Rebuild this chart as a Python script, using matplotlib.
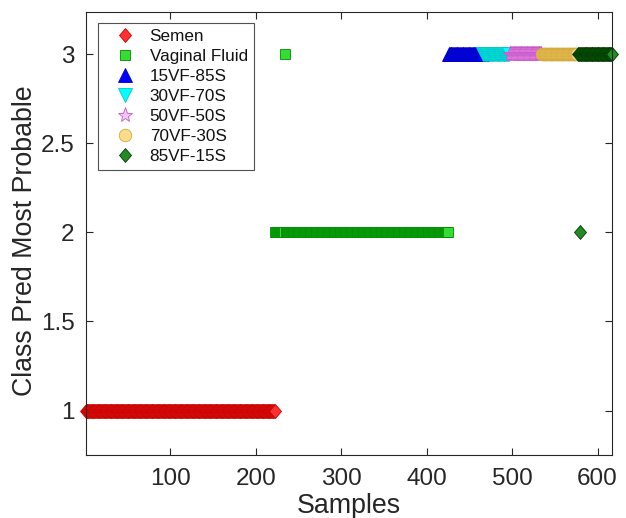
import matplotlib
matplotlib.use('Agg')
import matplotlib.pyplot as plt
from matplotlib.path import Path
import numpy as np

plt.rcParams['font.family'] = ['Liberation Sans', 'DejaVu Sans']

# ---- data ----
group_names = ['Semen', 'Vaginal Fluid', '15VF-85S', '30VF-70S',
               '50VF-50S', '70VF-30S', '85VF-15S']
group_sizes = [222, 203, 40, 31, 38, 42, 41]
group_classes = [1, 2, 3, 3, 3, 3, 3]
# misclassified samples: sample number and predicted class
outlier_samples = [234, 580]
outlier_classes = [3, 2]
x_ticks = [100, 200, 300, 400, 500, 600]
y_ticks = [1, 1.5, 2, 2.5, 3]
y_tick_labels = ['1', '1.5', '2', '2.5', '3']

# ---- styles ----
diamond = Path([(0, 1), (0.86, 0), (0, -1), (-0.86, 0), (0, 1)],
               [Path.MOVETO, Path.LINETO, Path.LINETO, Path.LINETO, Path.CLOSEPOLY])
styles = [
    dict(marker=diamond, ms=10, mfc='#ff3030', mec='#c80000'),
    dict(marker='s', ms=7, mfc='#33dd33', mec='#008a00'),
    dict(marker='^', ms=9.5, mfc='#0000ff', mec='#0000c8'),
    dict(marker='v', ms=9.5, mfc='#00ffff', mec='#00c8c8'),
    dict(marker='*', ms=11, mfc='#f4c8f4', mec='#cc55cc'),
    dict(marker='o', ms=9, mfc='#fbdc8a', mec='#d4aa38'),
    dict(marker=diamond, ms=10, mfc='#228b22', mec='#003800'),
]

fig = plt.figure(figsize=(6.26, 5.18), dpi=100)
ax = fig.add_axes([0.137, 0.1216, 0.8407, 0.8558])

start = 1
for name, size, cls, st in zip(group_names, group_sizes, group_classes, styles):
    xs = np.arange(start, start + size)
    ys = np.full(size, float(cls))
    for s, c in zip(outlier_samples, outlier_classes):
        if start <= s < start + size:
            ys[s - start] = c
    ax.plot(xs, ys, linestyle='none', marker=st['marker'], markersize=st['ms'],
            markerfacecolor=st['mfc'], markeredgecolor=st['mec'],
            markeredgewidth=0.6, label=name, clip_on=False)
    start += size

total = sum(group_sizes)
ax.set_xlim(1, total)
ax.set_ylim(0.75, 3.24)
ax.set_xticks(x_ticks)
ax.set_xticklabels([str(t) for t in x_ticks])
ax.set_yticks(y_ticks)
ax.set_yticklabels(y_tick_labels)

axcol = '#262626'
for sp in ax.spines.values():
    sp.set_color(axcol)
    sp.set_linewidth(0.8)
ax.tick_params(direction='in', length=5, width=0.8, colors=axcol,
               top=True, right=True, labelsize=17.5)
ax.tick_params(axis='x', pad=9)
ax.tick_params(axis='y', pad=8)
for lab in ax.get_xticklabels() + ax.get_yticklabels():
    lab.set_color(axcol)

ax.set_xlabel('Samples', fontsize=19.3, color=axcol, labelpad=2.5)
ax.set_ylabel('Class Pred Most Probable', fontsize=19.3, color=axcol)
ax.yaxis.set_label_coords(-0.091, 0.483)

leg = ax.legend(loc='upper left', bbox_to_anchor=(0.0234, 0.975), borderaxespad=0,
                fontsize=12.3, frameon=True, fancybox=False, numpoints=1,
                handlelength=2.34, handletextpad=0.3, labelspacing=0.29,
                borderpad=0.38)
leg.get_frame().set_edgecolor(axcol)
leg.get_frame().set_linewidth(0.8)
for t in leg.get_texts():
    t.set_color('#111111')

fig.savefig('out.png', dpi=100)
